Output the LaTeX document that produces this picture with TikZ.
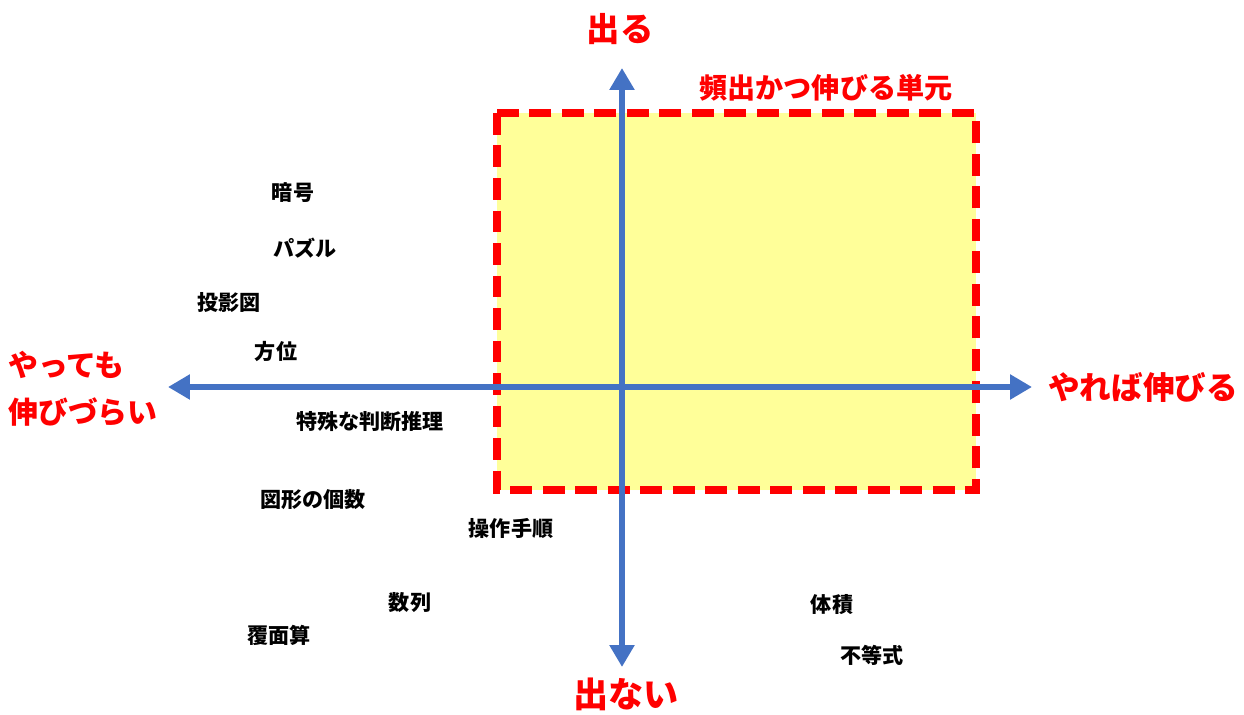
\documentclass[tikz,border=0pt]{standalone}
\usepackage{fontspec}
\setmainfont{Noto Sans CJK JP}
\usetikzlibrary{arrows.meta}
\definecolor{axisblue}{HTML}{4472C4}
\definecolor{areared}{HTML}{FF0000}
\definecolor{areayellow}{HTML}{FFFF99}
\tikzset{
  axis/.style={draw=axisblue, line width=3.4pt, {Triangle[length=4.4mm,width=4.8mm]}-{Triangle[length=4.4mm,width=4.8mm]}},
  area/.style={draw=areared, fill=areayellow, line width=4pt, dash pattern=on 12.5pt off 6pt},
  pole/.style={text=areared, font=\bfseries\fontsize{19pt}{23pt}\selectfont, inner sep=0pt},
  unit/.style={text=black, font=\bfseries\fontsize{12pt}{14pt}\selectfont, inner sep=0pt}
}
\begin{document}
\begin{tikzpicture}[x=0.02cm, y=-0.02cm]
  \useasboundingbox (0,0) rectangle (1244,715);
  % area of frequent and improvable units
  \draw[area] (497,113) rectangle (976,490);
  \draw
    (826,88) node[pole, font=\bfseries\fontsize{16pt}{19pt}\selectfont] (hot){頻出かつ伸びる単元};
  % axes
  \coordinate (top) at (622,68);
  \coordinate (bottom) at (622,667);
  \coordinate (left) at (168,387);
  \coordinate (right) at (1032,387);
  \begin{scope}
    \draw[axis] (bottom) to (top);
    \draw[axis] (left) to (right);
  \end{scope}
  % axis labels
  \draw
    (620,29) node[pole] (out){出る}
    (626,694) node[pole, font=\bfseries\fontsize{20pt}{24pt}\selectfont] (noout){出ない}
    (1143,387) node[pole, font=\bfseries\fontsize{18pt}{22pt}\selectfont] (grow){やれば伸びる}
    (8,389) node[pole, anchor=west, align=left, font=\bfseries\fontsize{17pt}{26.7pt}\selectfont] (nogrow){やっても\\伸びづらい};
  % units
  \draw
    (293,193) node[unit] (u1){暗号}
    (305,248) node[unit] (u2){パズル}
    (229,303) node[unit] (u3){投影図}
    (276,352) node[unit] (u4){方位}
    (370,422) node[unit] (u5){特殊な判断推理}
    (313,500) node[unit] (u6){図形の個数}
    (511,528) node[unit] (u7){操作手順}
    (410,603) node[unit] (u8){数列}
    (279,635) node[unit] (u9){覆面算}
    (832,605) node[unit] (u10){体積}
    (872,655) node[unit] (u11){不等式};
\end{tikzpicture}
\end{document}
